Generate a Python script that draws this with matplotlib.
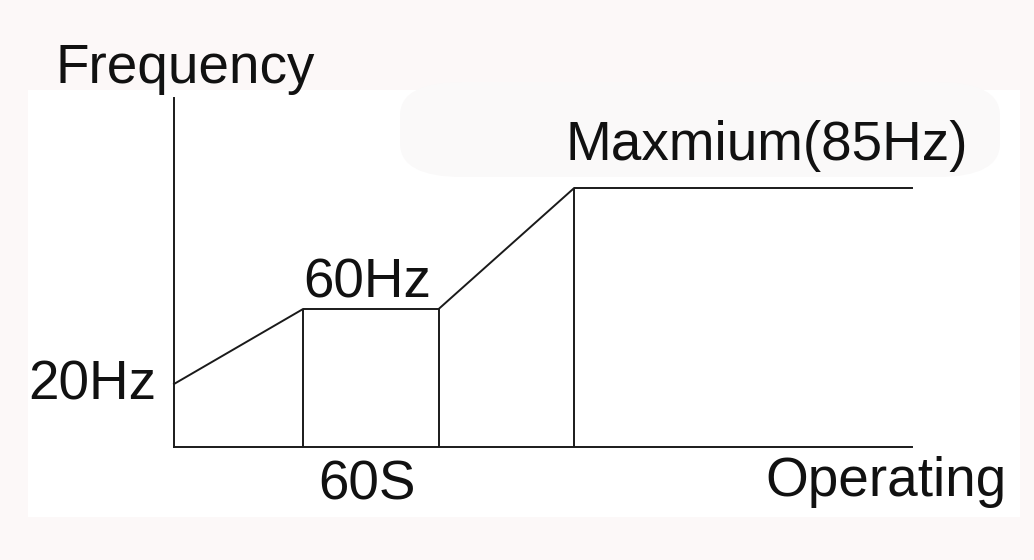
import numpy as np
import matplotlib.pyplot as plt
from matplotlib.patches import Rectangle, FancyBboxPatch

# operating curve: time (s) vs frequency (Hz)
time_s = [0, 60, 123, 186, 343]
freq_hz = [20, 60, 60, 85, 85]
drop_idx = [1, 2, 3]          # points that get a vertical guide line

# the frequency axis is not drawn to scale, so map Hz piecewise
hz_knots = [0, 20, 60, 85, 100]
px_knots = [0, 63, 138, 259, 349]


def fwd(v):
    return np.interp(v, hz_knots, px_knots)


def inv(v):
    return np.interp(v, px_knots, hz_knots)


plt.rcParams['font.family'] = ['Liberation Sans', 'DejaVu Sans']
ink = '#1a1a1a'

fig = plt.figure(figsize=(10.34, 5.6), dpi=100, facecolor='#fcf8f8')
W, H = 1034, 560

# white panel with a faint grey smudge behind the top label
fig.patches.append(Rectangle((28 / W, (H - 517) / H), (1020 - 28) / W, (517 - 90) / H,
                             transform=fig.transFigure, facecolor='white',
                             edgecolor='none', zorder=-2))
fig.patches.append(FancyBboxPatch((400 / W, (H - 177) / H), 600 / W, 95 / H,
                                  boxstyle='round,pad=0,rounding_size=0.06',
                                  transform=fig.transFigure, facecolor='#faf9f9',
                                  edgecolor='none', zorder=-1))

ax = fig.add_axes([174 / W, (H - 447) / H, (912 - 174) / W, (447 - 98) / H])
ax.set_zorder(2)
ax.set_facecolor('none')
ax.set_yscale('function', functions=(fwd, inv))
ax.set_xlim(0, 343)
ax.set_ylim(0, 100)

ax.plot(time_s, freq_hz, color=ink, lw=1.4, solid_joinstyle='miter', clip_on=False)
ax.vlines([time_s[i] for i in drop_idx], 0, [freq_hz[i] for i in drop_idx],
          color=ink, lw=1.4)

for side in ['top', 'right']:
    ax.spines[side].set_visible(False)
for side in ['left', 'bottom']:
    ax.spines[side].set_color(ink)
    ax.spines[side].set_linewidth(1.4)
ax.set_xticks([])
ax.set_yticks([])
ax.minorticks_off()

fs = 39.5
kw = dict(textcoords='offset pixels', fontsize=fs, color='#111111',
          va='baseline', annotation_clip=False)
ax.annotate('Frequency', xy=(0, 100), xytext=(-119, 15), ha='left', **kw)
ax.annotate(f'{freq_hz[0]}Hz', xy=(0, freq_hz[0]), xytext=(-18, -16), ha='right', **kw)
ax.annotate(f'{freq_hz[1]}Hz', xy=(time_s[1], freq_hz[1]), xytext=(0, 11), ha='left', **kw)
ax.annotate(f'Maxmium({freq_hz[3]}Hz)', xy=(time_s[3], freq_hz[3]), xytext=(-9, 28),
            ha='left', **kw)
ax.annotate(f'{time_s[1]}S', xy=(time_s[1], 0), xytext=(15, -53), ha='left', **kw)
ax.annotate('Operating', xy=(343, 0), xytext=(95, -49), ha='right', **kw)

plt.savefig('out.png', dpi=100, facecolor=fig.get_facecolor())
